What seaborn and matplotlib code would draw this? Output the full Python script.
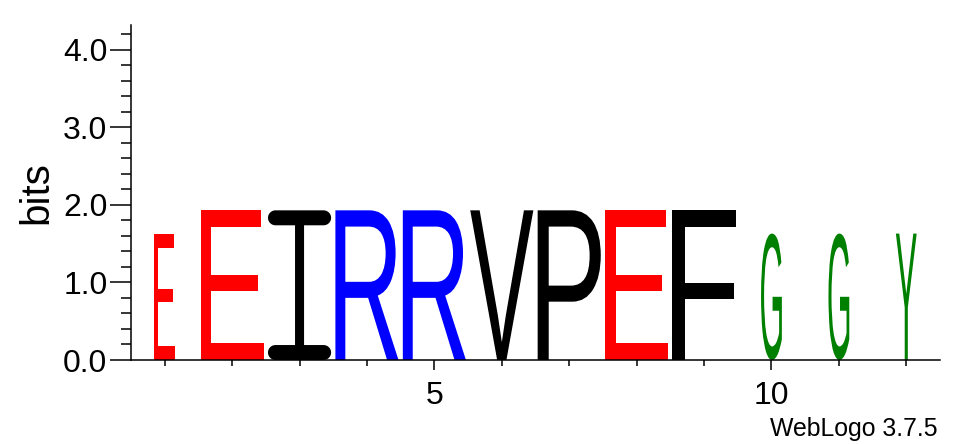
import numpy as np
import matplotlib
matplotlib.use('Agg')
import matplotlib.pyplot as plt
import seaborn as sns
from matplotlib.textpath import TextPath
from matplotlib.patches import PathPatch
from matplotlib.path import Path
from matplotlib.font_manager import FontProperties
from matplotlib.transforms import Affine2D
from matplotlib.ticker import MultipleLocator, FixedLocator, FormatStrFormatter

# logo data, one letter per column
positions = [1, 2, 3, 4, 5, 6, 7, 8, 9, 10, 11, 12]
letters = ['E', 'E', 'I', 'R', 'R', 'V', 'P', 'E', 'F', 'G', 'G', 'Y']
bits = [1.62, 1.93, 1.93, 1.93, 1.93, 1.93, 1.93, 1.93, 1.93, 1.63, 1.63, 1.63]
# fraction of sequences without a gap -> stack width
coverage = [0.33, 1, 1, 1, 1, 1, 1, 1, 1, 0.33, 0.33, 0.33]

# weblogo "chemistry" colours
colors = {'E': '#ff0000', 'D': '#ff0000',
          'R': '#0000ff', 'K': '#0000ff', 'H': '#0000ff',
          'G': '#008000', 'Y': '#008000', 'S': '#008000', 'T': '#008000', 'C': '#008000',
          'I': 'black', 'V': 'black', 'P': 'black', 'F': 'black', 'A': 'black',
          'L': 'black', 'M': 'black', 'W': 'black'}

sns.set_theme(style='ticks')
plt.rcParams['font.family'] = ['Liberation Sans', 'DejaVu Sans']
plt.rcParams['text.color'] = 'black'


def serif_i():
    # weblogo draws I with round-ended serifs, build it in a unit box
    t, s, rx = 0.1, 0.143, 0.119
    ang = np.linspace(-np.pi / 2, np.pi / 2, 20)
    def arc(cx, cy, right):
        if right:
            return list(zip(cx + rx * np.cos(ang), cy + t / 2 * np.sin(ang)))
        return list(zip(cx - rx * np.cos(ang), cy - t / 2 * np.sin(ang)))
    pts = [(rx, 0), (1 - rx, 0)]
    pts += arc(1 - rx, t / 2, True)
    pts += [(0.5 + s / 2, t), (0.5 + s / 2, 1 - t), (1 - rx, 1 - t)]
    pts += arc(1 - rx, 1 - t / 2, True)
    pts += [(rx, 1)]
    pts += arc(rx, 1 - t / 2, False)
    pts += [(0.5 - s / 2, 1 - t), (0.5 - s / 2, t), (rx, t)]
    pts += arc(rx, t / 2, False)
    pts.append(pts[0])
    return Path(pts, closed=True)


fig = plt.figure(figsize=(9.63, 4.44), dpi=100)
ax = fig.add_axes([131 / 963, 84 / 444, 809 / 963, 335 / 444])

fp = FontProperties(family='Liberation Sans')
for pos, let, h, cov in zip(positions, letters, bits, coverage):
    if let == 'I':
        tp = serif_i()
    else:
        tp = TextPath((0, 0), let, size=1, prop=fp)
    ext = tp.get_extents()
    w = 0.936 * cov
    tr = (Affine2D().translate(-ext.x0, -ext.y0)
          .scale(w / ext.width, h / ext.height)
          .translate(pos - w / 2, 0))
    ax.add_patch(PathPatch(tr.transform_path(tp), facecolor=colors[let],
                           edgecolor='none', lw=0))

ax.set_xlim(0.5, 12.5)
ax.set_ylim(0, 4.32)
sns.despine(ax=ax)
for s in ['left', 'bottom']:
    ax.spines[s].set_linewidth(1.1)
    ax.spines[s].set_color('black')

ax.yaxis.set_major_locator(MultipleLocator(1))
ax.yaxis.set_minor_locator(MultipleLocator(0.2))
ax.yaxis.set_major_formatter(FormatStrFormatter('%.1f'))
ax.xaxis.set_major_locator(FixedLocator([5, 10]))
ax.xaxis.set_minor_locator(FixedLocator(positions))

ax.tick_params(axis='y', which='major', length=15, width=1.1, pad=2, labelsize=23,
               colors='black')
ax.tick_params(axis='y', which='minor', length=7.2, width=1.1, colors='black')
ax.tick_params(axis='x', which='major', length=7.2, width=1.1, pad=8, labelsize=23,
               colors='black')
ax.tick_params(axis='x', which='minor', length=4.3, width=1.1, colors='black')
ax.grid(False)

fig.text(36 / 963, 251 / 444, 'bits', rotation=90, ha='center', va='center', fontsize=29)
fig.text(938 / 963, 8 / 444, 'WebLogo 3.7.5', ha='right', va='baseline', fontsize=17.9)

fig.savefig('out.png', dpi=100)
